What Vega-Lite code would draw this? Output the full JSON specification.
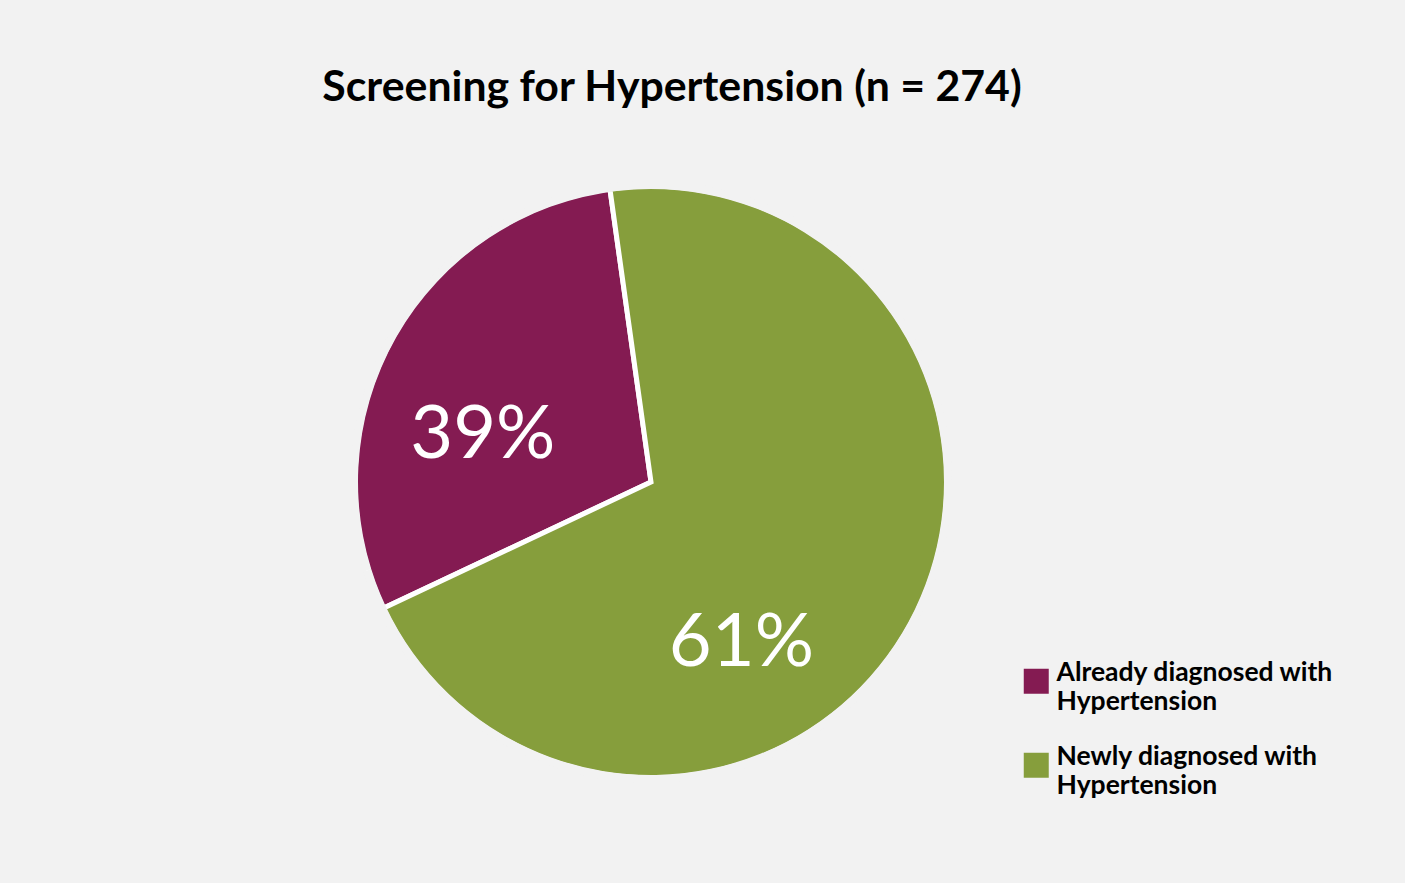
{
  "$schema": "https://vega.github.io/schema/vega-lite/v6.json",
  "autosize": "none",
  "width": 1302,
  "height": 586,
  "padding": {"left": 0, "top": 189, "right": 103, "bottom": 108},
  "background": "#F2F2F2",
  "config": {"view": {"stroke": null}, "font": "Lato"},
  "title": {
    "text": "Screening for Hypertension (n = 274)",
    "font": "Lato",
    "fontSize": 42.8,
    "fontWeight": "bold",
    "color": "#000000",
    "anchor": "middle",
    "dx": 21,
    "offset": 66
  },
  "data": {
    "values": [
      {"category": "Already diagnosed with Hypertension", "share": 29.8, "pct": 0.39},
      {"category": "Newly diagnosed with Hypertension", "share": 70.2, "pct": 0.61}
    ]
  },
  "layer": [
    {
      "mark": {"type": "arc", "radius": 296, "stroke": "#FFFFFF", "strokeWidth": 5},
      "encoding": {
        "theta": {"field": "share", "type": "quantitative", "stack": true, "scale": {"range": [-0.1393, 6.1439]}},
        "order": {"field": "category", "sort": "descending"},
        "color": {
          "field": "category",
          "type": "nominal",
          "scale": {"domain": ["Already diagnosed with Hypertension", "Newly diagnosed with Hypertension"], "range": ["#841B52", "#869E3C"]},
          "legend": {
            "title": null,
            "orient": "none",
            "legendX": 1023,
            "legendY": 479,
            "padding": 0,
            "symbolType": "square",
            "symbolSize": 625,
            "symbolStrokeWidth": 0,
            "symbolOpacity": 1,
            "labelFont": "Lato",
            "labelFontSize": 26.5,
            "labelFontWeight": "bold",
            "labelColor": "#000000",
            "labelLineHeight": 27,
            "labelBaseline": "alphabetic",
            "labelOffset": 7,
            "labelLimit": 400,
            "rowPadding": 28,
            "labelExpr": "datum.label == 'Already diagnosed with Hypertension' ? ['Already diagnosed with', 'Hypertension'] : ['Newly diagnosed with', 'Hypertension']"
          }
        }
      }
    },
    {
      "mark": {"type": "arc", "color": "#F2F2F2", "radius": 301, "radius2": 293, "strokeWidth": 0},
      "encoding": {
        "theta": {"field": "share", "type": "quantitative", "stack": true},
        "order": {"field": "category", "sort": "descending"}
      }
    },
    {
      "mark": {"type": "text", "radius": 179, "color": "#FFFFFF", "font": "Lato", "fontSize": 74, "fontWeight": "normal", "dx": 3, "dy": 6},
      "encoding": {
        "theta": {"field": "pct", "type": "quantitative", "stack": true, "scale": {"range": [1.1816, 5.9359]}},
        "order": {"field": "category", "sort": "descending"},
        "text": {"field": "pct", "type": "quantitative", "format": ".0%"}
      }
    }
  ],
  "resolve": {"scale": {"theta": "independent"}}
}
